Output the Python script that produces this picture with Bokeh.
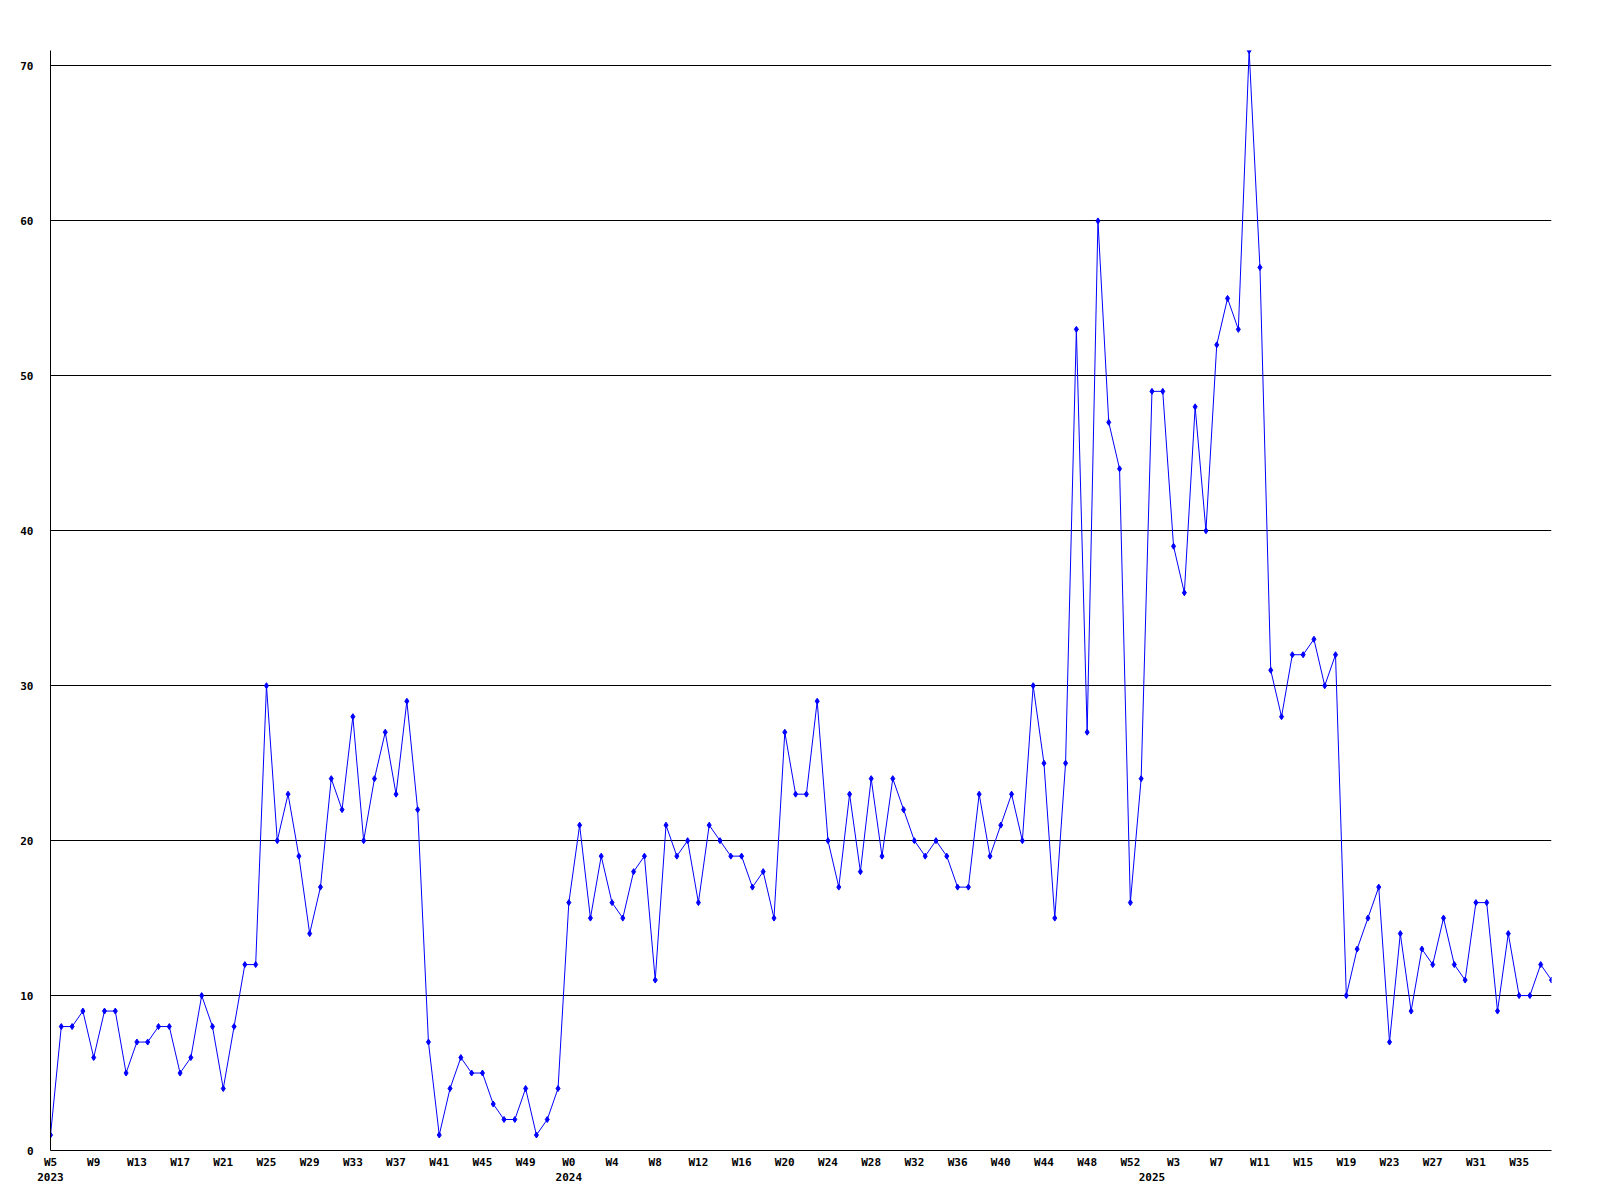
from bokeh.plotting import figure
from bokeh.models import Range1d, FixedTicker, LinearAxis
from bokeh.embed import file_html
from bokeh.resources import INLINE

# weekly counts, 2023 W5 .. 2025 W38
values_2023 = [1, 8, 8, 9, 6, 9, 9, 5, 7, 7, 8, 8, 5, 6, 10, 8, 4, 8, 12, 12,
               30, 20, 23, 19, 14, 17, 24, 22, 28, 20, 24, 27, 23, 29, 22, 7, 1, 4, 6, 5,
               5, 3, 2, 2, 4, 1, 2, 4]
values_2024 = [16, 21, 15, 19, 16, 15, 18, 19, 11, 21, 19, 20, 16, 21, 20, 19, 19, 17, 18, 15,
               27, 23, 23, 29, 20, 17, 23, 18, 24, 19, 24, 22, 20, 19, 20, 19, 17, 17, 23, 19,
               21, 23, 20, 30, 25, 15, 25, 53, 27, 60, 47, 44, 16]
values_2025 = [24, 49, 49, 39, 36, 48, 40, 52, 55, 53, 71, 57, 31, 28, 32, 32, 33, 30, 32, 10,
               13, 15, 17, 7, 14, 9, 13, 12, 15, 12, 11, 16, 16, 9, 14, 10, 10, 12, 11]

counts = values_2023 + values_2024 + values_2025
idx = list(range(len(counts)))

week_tick_labels = ["W5", "W9", "W13", "W17", "W21", "W25", "W29", "W33", "W37", "W41", "W45", "W49",
                    "W0", "W4", "W8", "W12", "W16", "W20", "W24", "W28", "W32", "W36", "W40", "W44",
                    "W48", "W52", "W3", "W7", "W11", "W15", "W19", "W23", "W27", "W31", "W35"]
week_tick_pos = list(range(0, 4 * len(week_tick_labels), 4))
year_labels = ["2023", "2024", "2025"]
year_pos = [0, len(values_2023), len(values_2023) + len(values_2024) + 1]
y_ticks = [0, 10, 20, 30, 40, 50, 60, 70]

FONT = "DejaVu Sans Mono"

p = figure(frame_width=1501, frame_height=1100, output_backend="svg", toolbar_location=None,
           x_range=Range1d(0, len(counts) - 1), y_range=Range1d(0, 71),
           min_border_left=50, min_border_top=50, min_border_right=41, min_border_bottom=40)
p.outline_line_color = None
p.background_fill_color = "white"
p.border_fill_color = "white"

p.line(idx, counts, line_color="#0000ff", line_width=1)
p.scatter(idx, counts, marker="diamond", size=6, fill_color="#0000ff", line_color="#0000ff")

p.xgrid.visible = False
p.ygrid.ticker = FixedTicker(ticks=y_ticks)
p.ygrid.grid_line_color = "black"
p.ygrid.grid_line_width = 1


def style_axis(ax):
    ax.major_tick_out = 0
    ax.major_tick_in = 0
    ax.minor_tick_out = 0
    ax.minor_tick_in = 0
    ax.major_label_text_font = FONT
    ax.major_label_text_font_style = "bold"
    ax.major_label_text_font_size = "11px"
    ax.major_label_text_color = "black"


p.yaxis.ticker = FixedTicker(ticks=y_ticks)
p.yaxis.axis_line_color = "black"
style_axis(p.yaxis[0])
p.yaxis.major_label_standoff = 17

p.xaxis.ticker = FixedTicker(ticks=week_tick_pos)
p.xaxis.major_label_overrides = dict(zip(week_tick_pos, week_tick_labels))
p.xaxis.axis_line_color = "black"
style_axis(p.xaxis[0])
p.xaxis.major_label_standoff = 5

year_axis = LinearAxis(ticker=FixedTicker(ticks=year_pos),
                       major_label_overrides=dict(zip(year_pos, year_labels)))
style_axis(year_axis)
year_axis.axis_line_color = None
year_axis.major_label_standoff = 1
p.add_layout(year_axis, "below")

open("out.html", "w").write(file_html(p, INLINE))
